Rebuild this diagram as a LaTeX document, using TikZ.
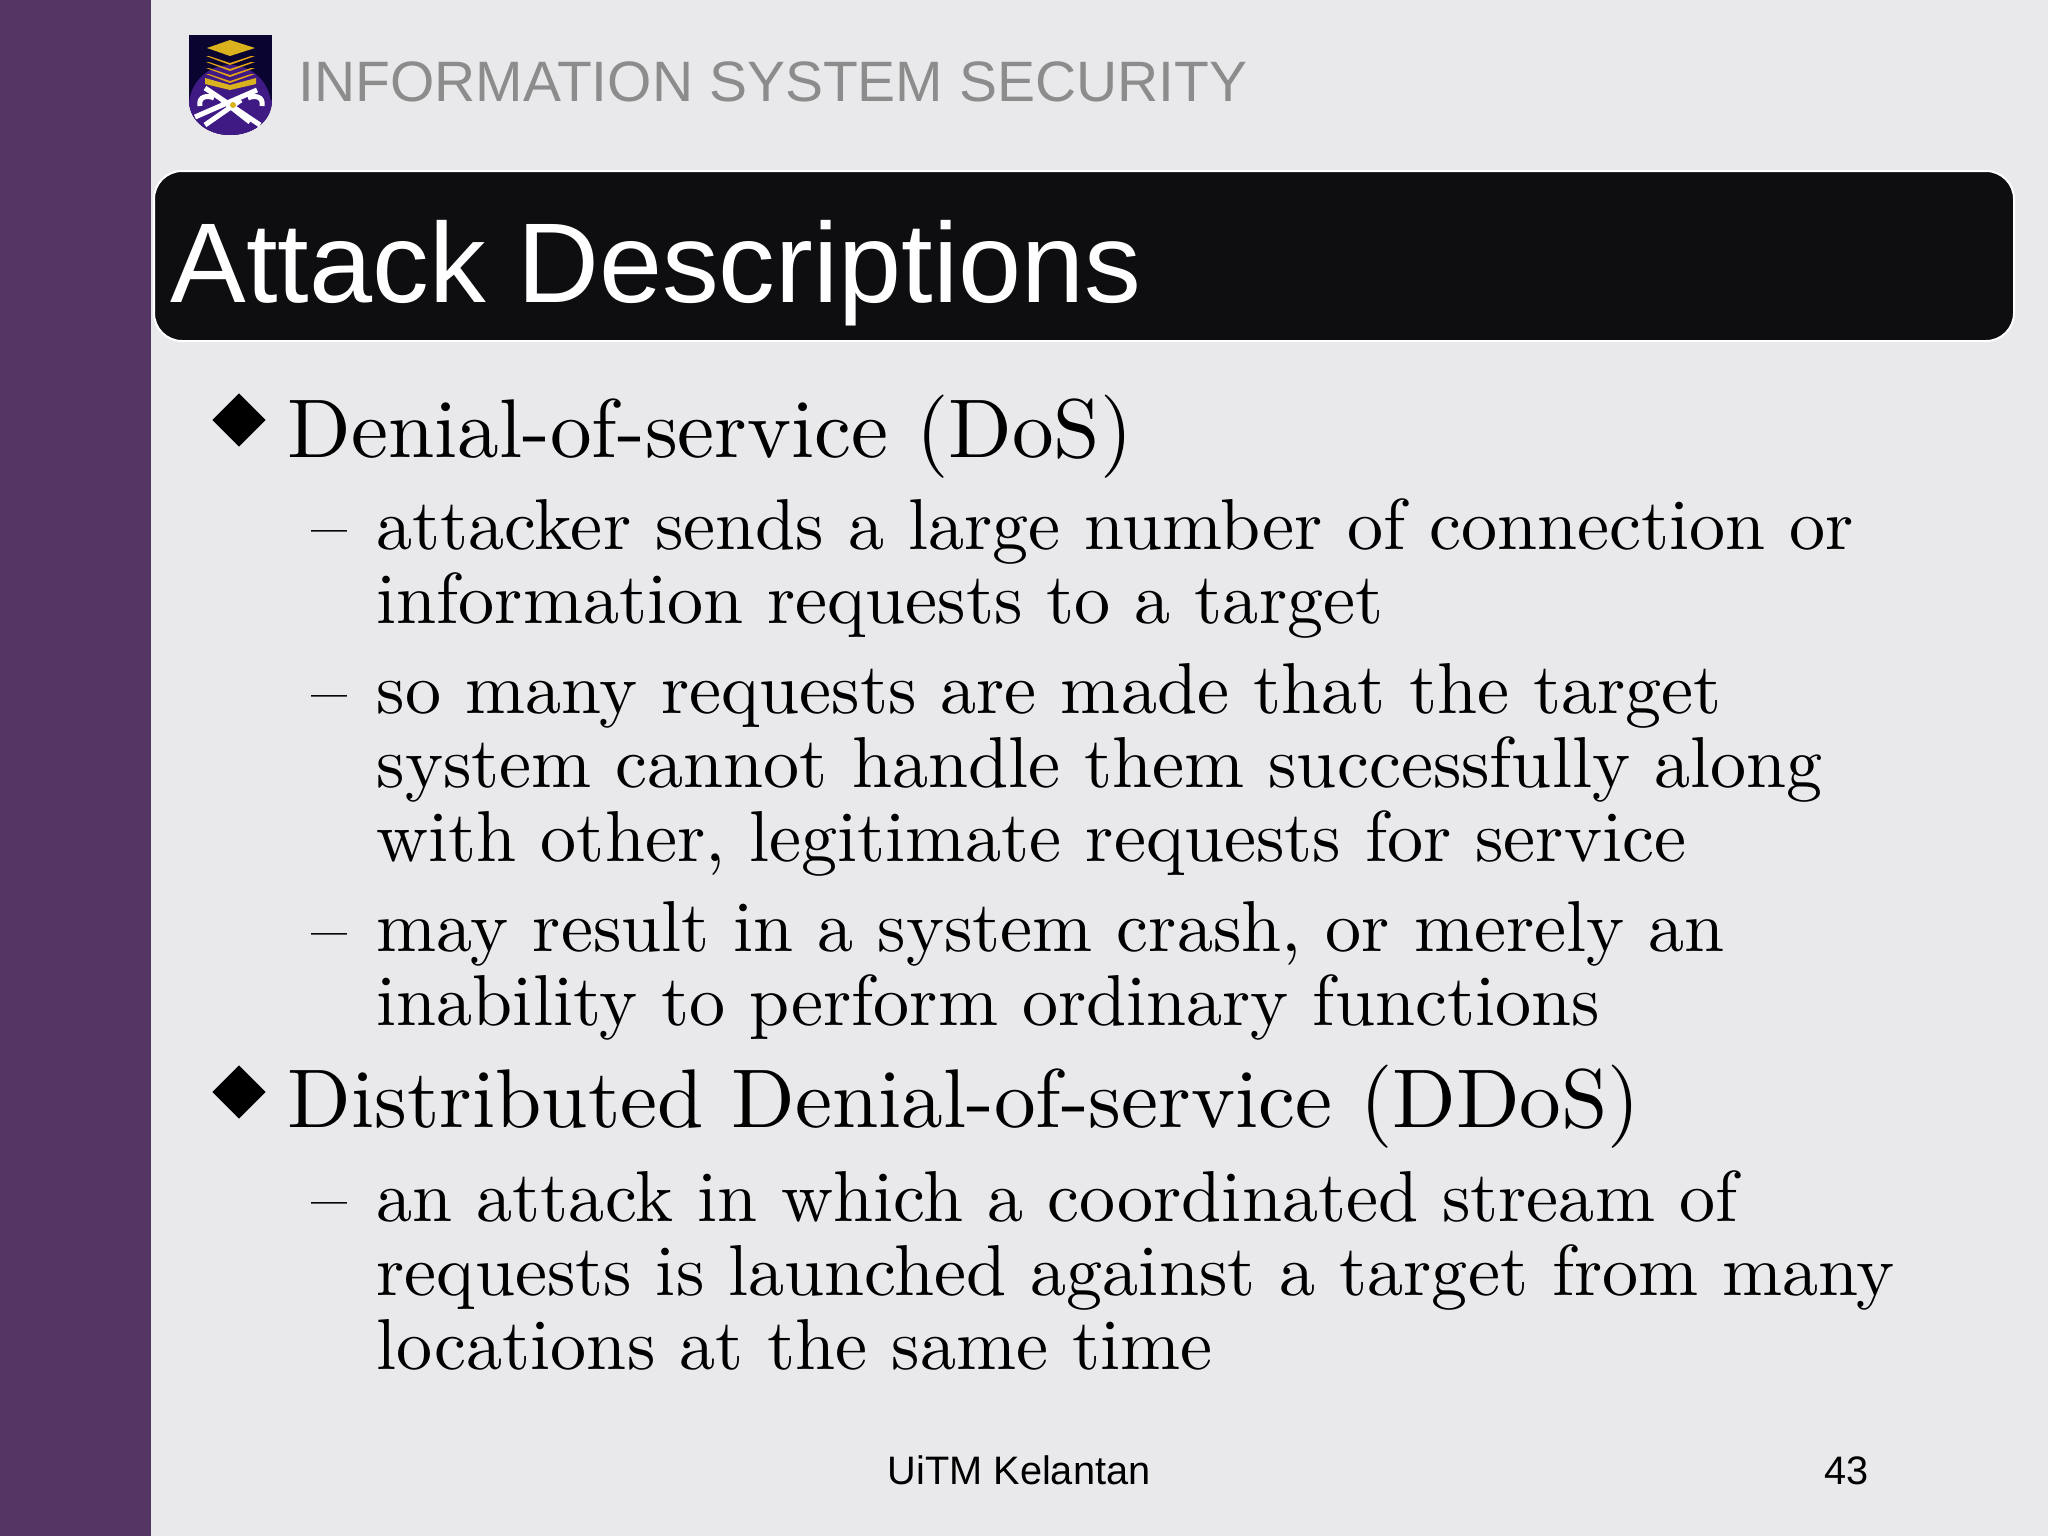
\documentclass[tikz,border=0pt]{standalone}
\usepackage{fontspec}
\setsansfont{Liberation Sans}
\newfontfamily\slidefont{lmroman10-regular.otf}
\usepackage{xcolor}
\usetikzlibrary{shapes.geometric}

\definecolor{slidebg}{HTML}{E9E8EB}
\definecolor{sidepurple}{HTML}{553564}
\definecolor{titleblack}{HTML}{0E0D10}
\definecolor{headgray}{HTML}{8C8C8C}
\definecolor{logonavy}{HTML}{0A0530}
\definecolor{logopurple}{HTML}{3F1A85}
\definecolor{logogold}{HTML}{D9B21E}

\tikzset{
	headtext/.style={anchor=base west, inner sep=0pt, text=headgray, font=\sffamily\fontsize{16.2}{18}\selectfont},
	titletext/.style={anchor=base west, inner sep=0pt, text=white, font=\sffamily\fontsize{32.25}{38}\selectfont},
	mainitem/.style={anchor=base west, inner sep=0pt, font=\slidefont\fontsize{23.68}{26}\selectfont},
	subitem/.style={anchor=north west, inner sep=0pt, align=left, font=\slidefont\fontsize{20.5}{21}\selectfont},
	subdash/.style={anchor=base west, inner sep=0pt, font=\slidefont\fontsize{20.5}{21}\selectfont},
	bulletmark/.style={diamond, fill=black, inner sep=0pt, minimum width=0.54cm, minimum height=0.54cm},
	foottext/.style={anchor=base, inner sep=0pt, font=\sffamily\fontsize{11.3}{13}\selectfont}
}

\begin{document}
\begin{tikzpicture}[x=0.01cm, y=-0.01cm]

	\useasboundingbox (0, 0) rectangle (2048, 1536);
	\fill[slidebg] (0, 0) rectangle (2048, 1536);
	\fill[sidepurple] (0, 0) rectangle (151, 1536);

	% logo
	\begin{scope}
		\clip (189, 35) -- (272, 35) -- (272, 100) .. controls (272, 122) and (252, 135) .. (230, 135) .. controls (209, 135) and (189, 122) .. (189, 100) -- cycle;
		\fill[logonavy] (189, 35) rectangle (272, 135);
		\fill[logopurple] (230, 106) circle (41);
		\fill[logopurple] (189, 100) rectangle (272, 135);
	\end{scope}
	\fill[logogold] (207, 48) -- (230, 40) -- (255, 48) -- (230, 56) -- cycle;
	\foreach \y in {56, 62, 68, 74}
		\fill[logogold!70!orange] (206, \y) -- (209, \y) -- (230, \y + 7) -- (251, \y) -- (255, \y) -- (230, \y + 9) -- cycle;
	\fill[logogold] (205, 78) -- (230, 85) -- (256, 78) -- (256, 84) -- (230, 90) -- (205, 84) -- cycle;
	\draw[white, line width=0.05cm] (195, 117) -- (257, 90);
	\draw[white, line width=0.05cm] (205, 125) -- (241, 100);
	\draw[white, line width=0.05cm] (205, 88) -- (260, 125);
	\draw[white, line width=0.05cm] (222, 100) -- (250, 122);
	\draw[white, line width=0.05cm] (200, 106) .. controls (198, 96) and (208, 95) .. (214, 98);
	\draw[white, line width=0.05cm] (262, 106) .. controls (264, 96) and (254, 95) .. (248, 98);
	\fill[logogold] (233, 105) circle (3);

	\node[headtext] (header) at (298, 101) {INFORMATION SYSTEM SECURITY};

	\draw[white, fill=titleblack, line width=0.02cm, rounded corners=0.28cm] (154, 171) rectangle (2014, 341);
	\node[titletext] (title) at (170, 302) {Attack Descriptions};

	\node[bulletmark] (bulleta) at (239, 420) {};
	\node[mainitem] (maina) at (287, 457) {Denial-of-service (DoS)};

	\node[subdash] (dasha) at (311, 550) {–};
	\node[subitem] (suba) at (376, 498) {attacker sends a large number of connection or\\information requests to a target};

	\node[subdash] (dashb) at (311, 715) {–};
	\node[subitem] (subb) at (376, 663) {so many requests are made that the target\\system cannot handle them successfully along\\with other, legitimate requests for service};

	\node[subdash] (dashc) at (311, 953) {–};
	\node[subitem] (subc) at (376, 901) {may result in a system crash, or merely an\\inability to perform ordinary functions};

	\node[bulletmark] (bulletb) at (239, 1092) {};
	\node[mainitem] (mainb) at (287, 1127) {Distributed Denial-of-service (DDoS)};

	\node[subdash] (dashd) at (311, 1222) {–};
	\node[subitem] (subd) at (376, 1170) {an attack in which a coordinated stream of\\requests is launched against a target from many\\locations at the same time};

	\node[foottext] (footer) at (1019, 1484) {UiTM Kelantan};
	\node[foottext, anchor=base east] (pagenum) at (1869, 1484) {43};

\end{tikzpicture}
\end{document}
